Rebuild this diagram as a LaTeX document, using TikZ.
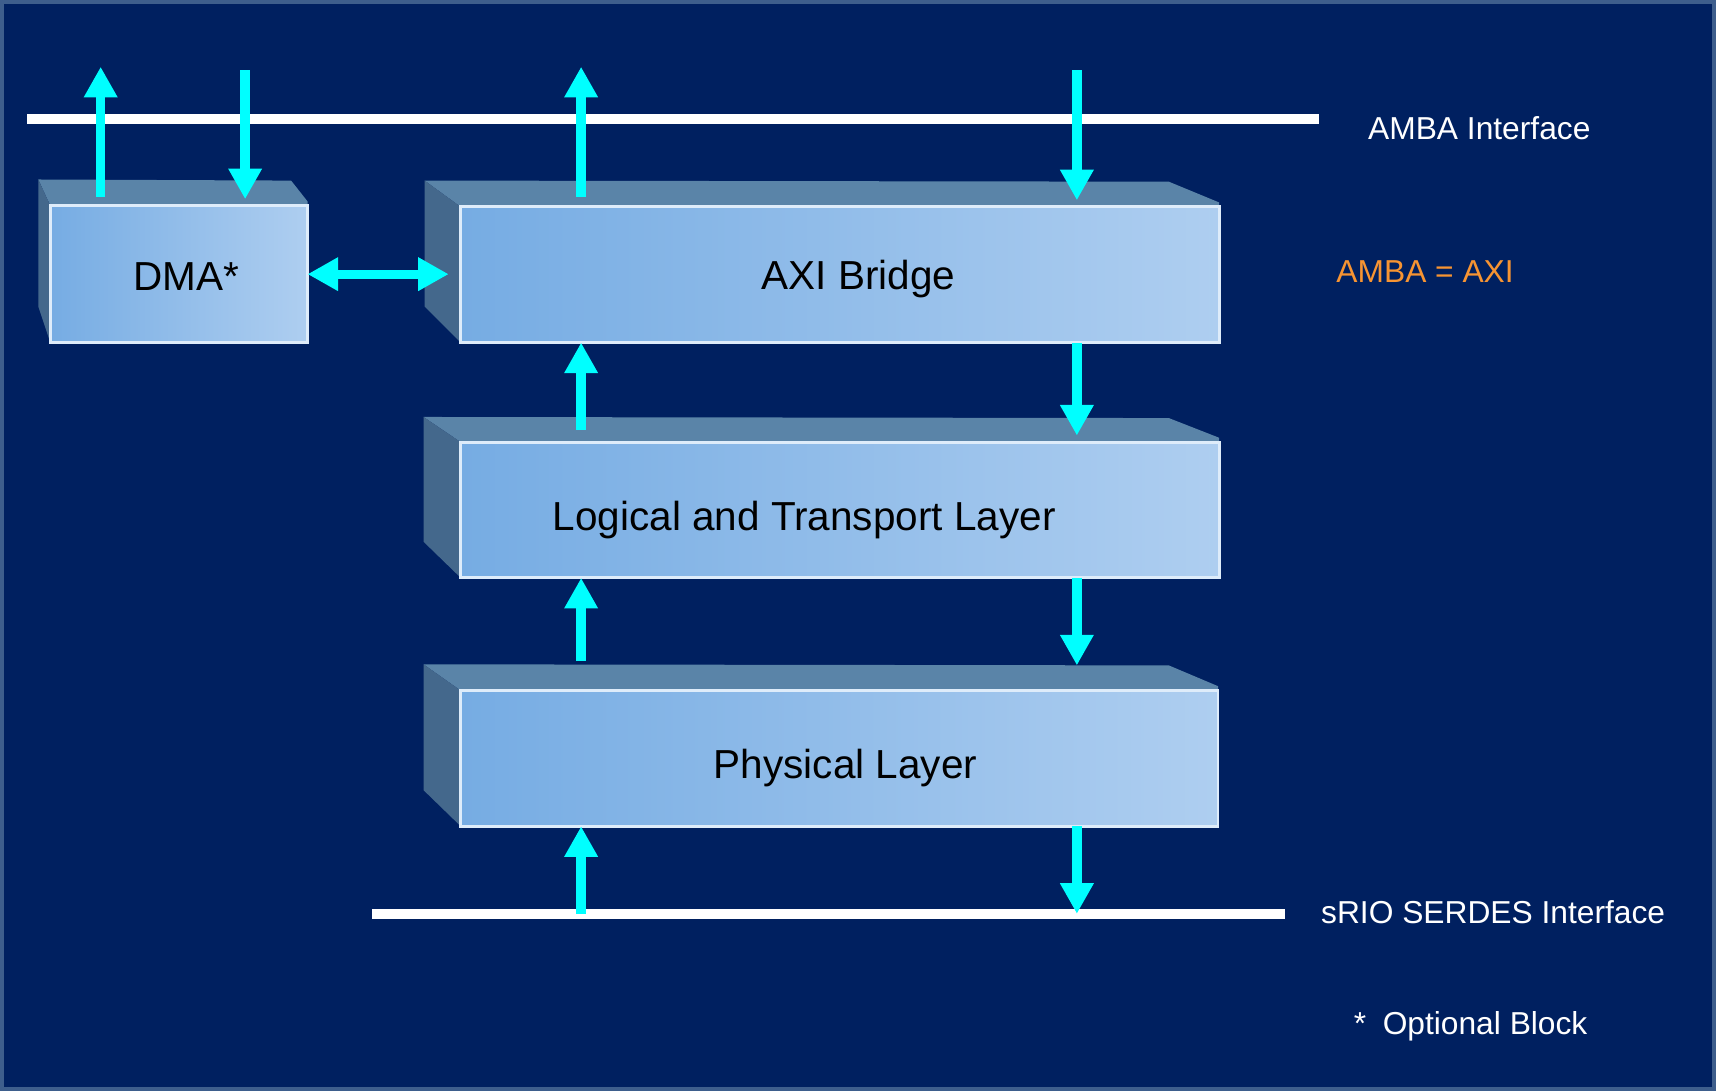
\documentclass[tikz,border=0pt]{standalone}
\usepackage{fontspec}
\setmainfont{Liberation Sans}
\usetikzlibrary{arrows.meta,calc}
\pgfdeclarelayer{back}
\pgfsetlayers{back,main}

\definecolor{navy}{RGB}{0,32,96}
\definecolor{frameblue}{RGB}{62,94,140}
\definecolor{topblue}{RGB}{90,132,168}
\definecolor{sideblue}{RGB}{68,104,140}
\definecolor{faceL}{RGB}{118,172,227}
\definecolor{faceM}{RGB}{142,188,234}
\definecolor{faceR}{RGB}{174,206,240}
\definecolor{edgelight}{RGB}{222,236,250}
\definecolor{flowcyan}{RGB}{0,255,255}
\definecolor{noteorange}{RGB}{247,148,50}

% top and left faces behind a block's front face
% #1 front node, #2 side depth, #3 top depth, #4 back-right inset, #5 lower edge rise
\newcommand\slabfaces[5]{%
  \fill[topblue] (#1.north west) -- ++(-#2,-#3)
    -- ($(#1.north east)+(-#4,-#3+1)$) -- ($(#1.north east)+(0,-4)$)
    -- (#1.north east) -- cycle;
  \fill[sideblue] (#1.north west) -- ++(-#2,-#3)
    -- ($(#1.south west)+(-#2,-#5)$) -- (#1.south west) -- cycle;
}

\begin{document}
\begin{tikzpicture}[x=1pt,y=-1pt,
  front/.style={draw=edgelight, line width=2.5pt, left color=faceL,
    middle color=faceM, right color=faceR, inner sep=0pt, outer sep=0pt,
    minimum height=124pt, anchor=north west},
  boxlabel/.style={font=\fontsize{37pt}{44pt}\selectfont, text=black,
    inner sep=0pt, anchor=base west},
  sidelabel/.style={font=\fontsize{29pt}{35pt}\selectfont, text=white,
    inner sep=0pt, anchor=base west},
  bus/.style={draw=white, line width=9pt},
  flow/.style={draw=flowcyan, line width=8.5pt,
    -{Triangle[width=29pt,length=28pt]}},
  twoway/.style={draw=flowcyan, line width=8.5pt,
    {Triangle[width=29pt,length=28pt]}-{Triangle[width=29pt,length=28pt]}}]

\useasboundingbox (0,0) rectangle (1568,997);

% blocks (front faces)
\node[front, minimum width=235pt, minimum height=125pt] (dma) at (46,188) {};
\node[front, minimum width=693pt] (axi) at (421,189) {};
\node[front, minimum width=693pt] (ltl) at (421,404) {};
\node[front, minimum width=692pt] (phy) at (421,631) {};

\begin{pgfonlayer}{back}
  \fill[navy] (0,0) rectangle (1568,997);
  \draw[frameblue, line width=3.5pt] (1.75,1.75) rectangle (1566.25,995.25);
  \slabfaces{dma}{11}{24}{15}{33}
  \slabfaces{axi}{33}{24}{46}{33}
  \slabfaces{ltl}{34}{23}{46}{33}
  \slabfaces{phy}{34}{24}{45}{33}
\end{pgfonlayer}

% block labels
\node[boxlabel] (dmaText) at (122,265) {DMA*};
\node[boxlabel] (axiText) at (696,264.5) {AXI Bridge};
\node[boxlabel] (ltlText) at (505,485) {Logical and Transport Layer};
\node[boxlabel] (phyText) at (652,711) {Physical Layer};

% interface buses
\coordinate (ambaL) at (25,109);
\coordinate (ambaR) at (1205,109);
\coordinate (srioL) at (340,835);
\coordinate (srioR) at (1174,835);
\draw[bus] (ambaL) -- (ambaR);
\draw[bus] (srioL) -- (srioR);

% side notes
\node[sidelabel] (ambaText) at (1250,127.5) {AMBA Interface};
\node[sidelabel, text=noteorange] (axiNote) at (1221,258.5) {AMBA = AXI};
\node[sidelabel] (srioText) at (1207,843.5) {sRIO SERDES Interface};
\node[sidelabel] (optNote) at (1237,945.5) {*\hspace{15pt}Optional Block};

% arrow columns and bus-side ends
\coordinate (colA) at (92,0);
\coordinate (colB) at (224,0);
\coordinate (colC) at (531,0);
\coordinate (colD) at (984,0);
\coordinate (upTip) at (0,61);
\coordinate (downTail) at (0,64);
\coordinate (axiSide) at ($(axi.west)+(-11,0)$);

% AMBA side
\draw[flow] ($(dma.north -| colA)+(0,-8)$) -- (colA |- upTip);
\draw[flow] (colB |- downTail) -- ($(dma.north -| colB)+(0,-6)$);
\draw[flow] ($(axi.north -| colC)+(0,-9)$) -- (colC |- upTip);
\draw[flow] (colD |- downTail) -- ($(axi.north -| colD)+(0,-6)$);

% DMA to bridge
\draw[twoway] (dma.east) -- (dma.east -| axiSide);

% between layers
\draw[flow] ($(ltl.north -| colC)+(0,-11)$) -- (axi.south -| colC);
\draw[flow] (axi.south -| colD) -- ($(ltl.north -| colD)+(0,-6)$);
\draw[flow] ($(phy.north -| colC)+(0,-27)$) -- (ltl.south -| colC);
\draw[flow] (ltl.south -| colD) -- ($(phy.north -| colD)+(0,-23)$);

% SERDES side
\draw[flow] (srioL -| colC) -- (phy.south -| colC);
\draw[flow] (phy.south -| colD) -- (srioL -| colD);

\end{tikzpicture}
\end{document}
